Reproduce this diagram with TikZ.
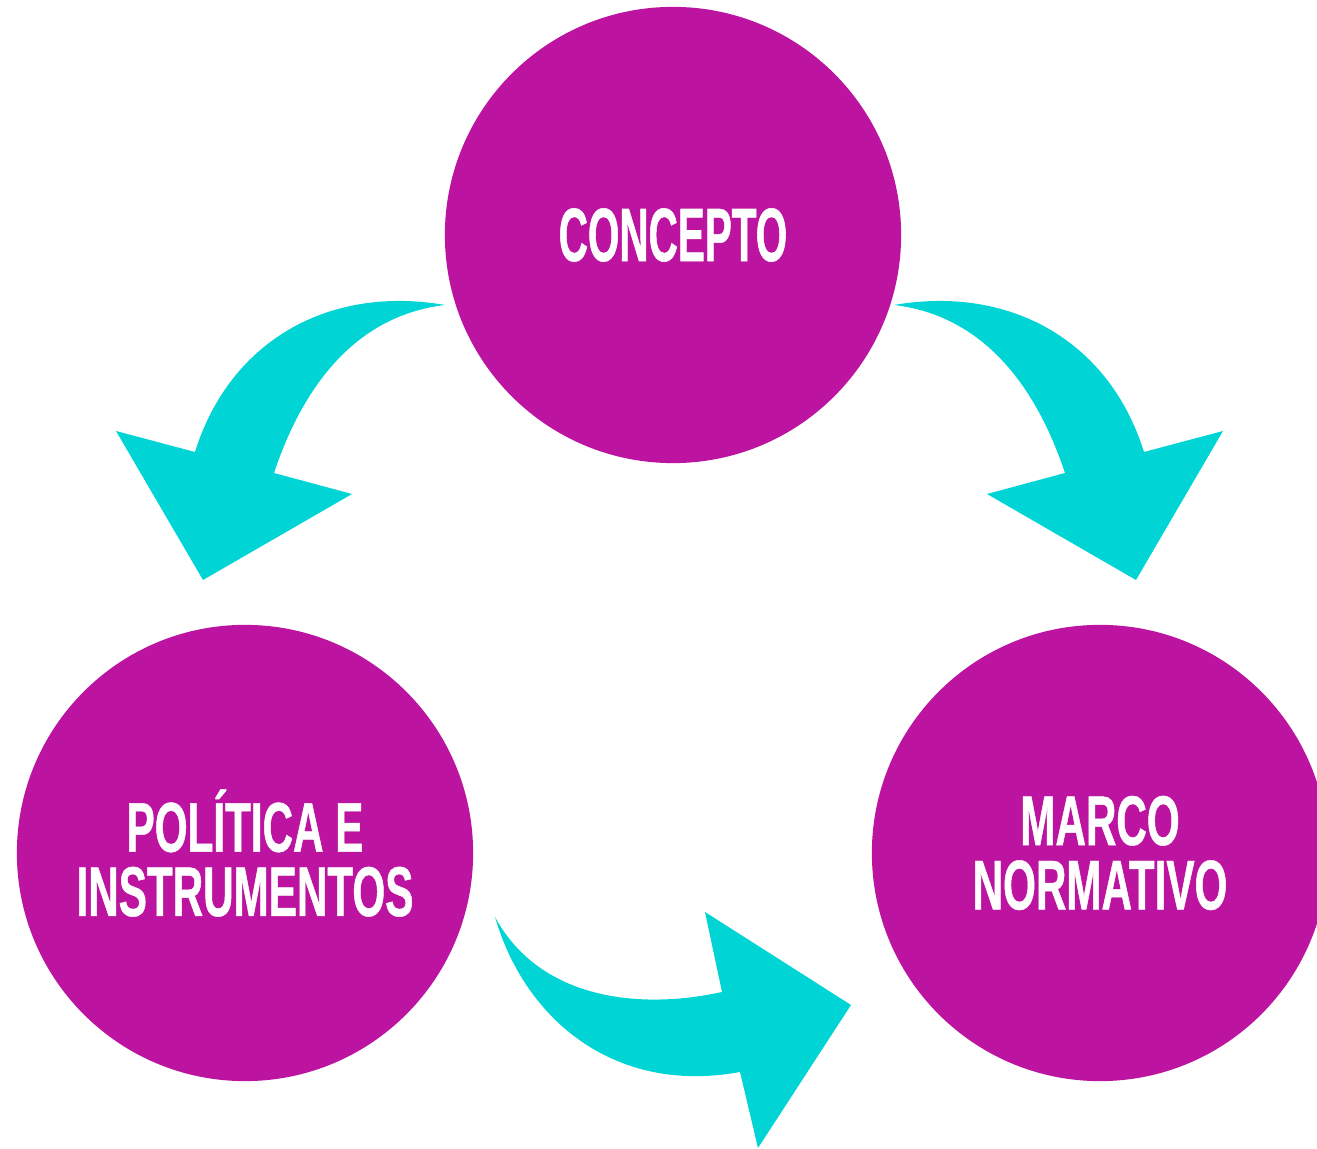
\documentclass[tikz,border=0pt]{standalone}
\usepackage{fontspec}
\newfontfamily\topicfont[FakeStretch=0.6,FakeBold=0.7]{Liberation Sans}
\newfontfamily\conceptfont[FakeStretch=0.535,FakeBold=0.7]{Liberation Sans}
\definecolor{topicmagenta}{RGB}{188,20,160}
\definecolor{arrowcyan}{RGB}{0,212,212}
\tikzset{
  topic/.style={circle,fill=topicmagenta,minimum size=4.56cm,inner sep=0pt,
    text=white,align=center,font=\topicfont\bfseries\fontsize{20}{18.3}\selectfont},
  fatarrow/.style={fill=arrowcyan}
}
\begin{document}
\begin{tikzpicture}[x=0.01cm,y=-0.01cm]
    \useasboundingbox (0,0) rectangle (1317,1149);

    % draw the three topics
    \node[topic,font=\conceptfont\bfseries\fontsize{21.5}{18.3}\selectfont] (concepto) at (673,235) {CONCEPTO};
    \node[topic] (politica) at (245,853) {POLÍTICA E\\INSTRUMENTOS};
    \node[topic] (marco) at (1100,853) {MARCO\\NORMATIVO};

    % arrow from concepto down to politica
    \fill[fatarrow] (445,305) .. controls (330,285) and (230,340) .. (195,452)
        -- (116,431) -- (203,580) -- (352,494) -- (274,473)
        .. controls (305,380) and (360,315) .. cycle;

    % arrow from concepto down to marco
    \fill[fatarrow] (894,305) .. controls (1009,285) and (1109,340) .. (1144,452)
        -- (1223,431) -- (1136,580) -- (987,494) -- (1065,473)
        .. controls (1034,380) and (979,315) .. cycle;

    % arrow from politica over to marco
    \fill[fatarrow] (495,917) .. controls (540,1000) and (640,1010) .. (722,992)
        -- (705,912) -- (851,1005) -- (758,1148) -- (740,1072)
        .. controls (615,1095) and (525,1020) .. cycle;
\end{tikzpicture}
\end{document}
